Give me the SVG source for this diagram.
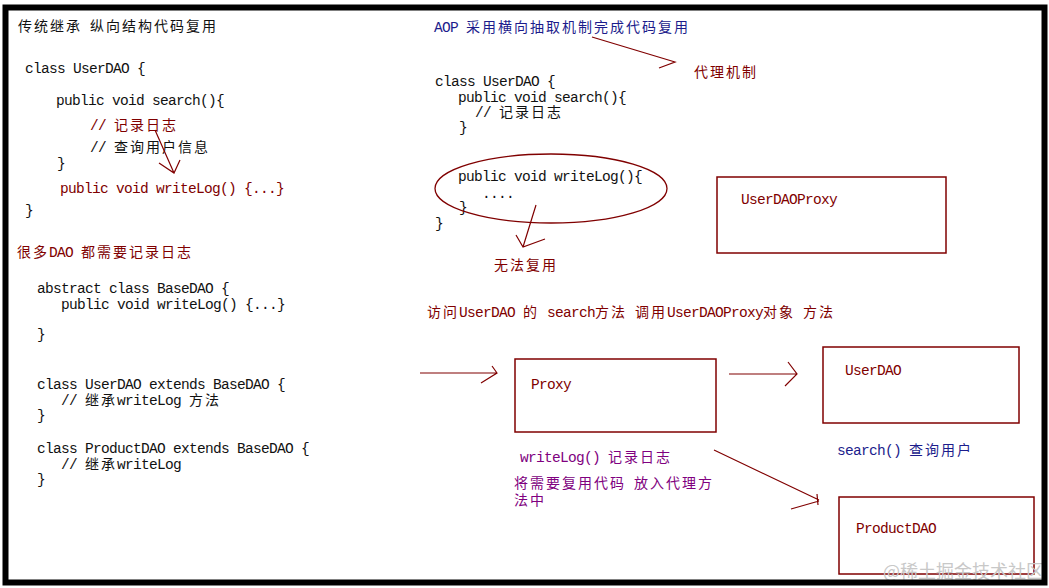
<svg xmlns="http://www.w3.org/2000/svg" width="1049" height="588" viewBox="0 0 1049 588">
<style>
text { font-family: "Liberation Mono", "Noto Sans CJK SC", monospace; font-size: 14.5px; letter-spacing: -0.7px; fill: #111; }
.z { font-family: "Noto Sans CJK SC", sans-serif; font-size: 14px; letter-spacing: 2px; }
.r, .r text { fill: #800000; }
.b { fill: #1c1c8c; }
.p { fill: #800080; }
.box { fill: none; stroke: #800000; stroke-width: 1.5; }
#connectors line, #connectors path { stroke: #800000; stroke-width: 1.2; fill: none; }
</style>
<rect x="0" y="0" width="1049" height="588" fill="#fff"/>

<g id="title-left">
<text x="18" y="31"><tspan class="z">传统继承</tspan> <tspan class="z">纵向结构代码复用</tspan></text>
</g>

<g id="code-left-userdao">
<text x="25" y="73">class UserDAO {</text>
<text x="56" y="105">public void search(){</text>
<text x="90" y="130" class="r">// <tspan class="z">记录日志</tspan></text>
<text x="90" y="152">// <tspan class="z">查询用户信息</tspan></text>
<text x="57" y="168">}</text>
<text x="60" y="193" class="r">public void writeLog() {...}</text>
<text x="25" y="215">}</text>
</g>

<g id="title-many-dao">
<text x="17" y="257" class="r"><tspan class="z">很多</tspan>DAO <tspan class="z">都需要记录日志</tspan></text>
</g>

<g id="code-left-basedao">
<text x="37" y="293">abstract class BaseDAO {</text>
<text x="61" y="309">public void writeLog() {...}</text>
<text x="37" y="339">}</text>
<text x="37" y="389">class UserDAO extends BaseDAO {</text>
<text x="61" y="405">// <tspan class="z">继承</tspan>writeLog <tspan class="z">方法</tspan></text>
<text x="37" y="420">}</text>
<text x="37" y="453">class ProductDAO extends BaseDAO {</text>
<text x="61" y="469">// <tspan class="z">继承</tspan>writeLog</text>
<text x="37" y="484">}</text>
</g>

<g id="title-aop">
<text x="434" y="32" class="b">AOP <tspan class="z">采用横向抽取机制完成代码复用</tspan></text>
</g>
<g id="label-proxy-mechanism">
<text x="694" y="77" class="r"><tspan class="z">代理机制</tspan></text>
</g>

<g id="code-right-userdao">
<text x="435" y="86">class UserDAO {</text>
<text x="458" y="102">public void search(){</text>
<text x="475" y="117">// <tspan class="z">记录日志</tspan></text>
<text x="459" y="132">}</text>
<text x="458" y="181">public void writeLog(){</text>
<text x="482" y="198">....</text>
<text x="459" y="212">}</text>
<text x="435" y="228">}</text>
</g>

<g id="ellipse-writelog">
<ellipse cx="551" cy="188.5" rx="116" ry="34.5" fill="none" stroke="#800000" stroke-width="1.3"/>
</g>

<g id="label-cannot-reuse">
<text x="494" y="270" class="r"><tspan class="z">无法复用</tspan></text>
</g>

<g id="node-userdaoproxy">
<rect class="box" x="717" y="177" width="229" height="76"/>
<text x="741" y="204" class="r">UserDAOProxy</text>
</g>

<g id="label-access">
<text x="427" y="317" class="r"><tspan class="z">访问</tspan>UserDAO <tspan class="z">的</tspan> search<tspan class="z">方法</tspan> <tspan class="z">调用</tspan>UserDAOProxy<tspan class="z">对象</tspan> <tspan class="z">方法</tspan></text>
</g>

<g id="node-proxy">
<rect class="box" x="515" y="359" width="201" height="73"/>
<text x="531" y="389" class="r">Proxy</text>
</g>

<g id="node-userdao">
<rect class="box" x="823" y="347" width="196" height="76"/>
<text x="845" y="375" class="r">UserDAO</text>
</g>

<g id="label-writelog">
<text x="520" y="462" class="p">writeLog() <tspan class="z">记录日志</tspan></text>
<text x="514" y="488" class="p"><tspan class="z">将需要复用代码</tspan> <tspan class="z">放入代理方</tspan></text>
<text x="514" y="505" class="p"><tspan class="z">法中</tspan></text>
</g>

<g id="label-search">
<text x="837" y="455" class="b">search() <tspan class="z">查询用户</tspan></text>
</g>

<g id="node-productdao">
<rect class="box" x="839" y="497" width="195" height="77"/>
<text x="856" y="533" class="r">ProductDAO</text>
</g>

<g id="connectors">
<path d="M155,130 L174,173 M159,163 L174,173 L180,160"/>
<path d="M592,37 L675,62 L659,68"/>
<path d="M536,205 L523,247 M516,235 L523,247 L545,239"/>
<path d="M420,373 L497,373 M492,366 L497,373 L481,383"/>
<path d="M729,374 L797,374 M788,362 L797,374 L785,386"/>
<path d="M714,450 L819,500 M791,509 L819,501 M817,494 L818,505"/>
</g>

<text x="883" y="578" style="font-family:'Noto Sans CJK SC',sans-serif;font-size:18px;letter-spacing:0;fill:#c8c8c8">@稀土掘金技术社区</text>

<rect x="5.5" y="7.5" width="1039" height="575" fill="none" stroke="#000" stroke-width="6"/>
</svg>
